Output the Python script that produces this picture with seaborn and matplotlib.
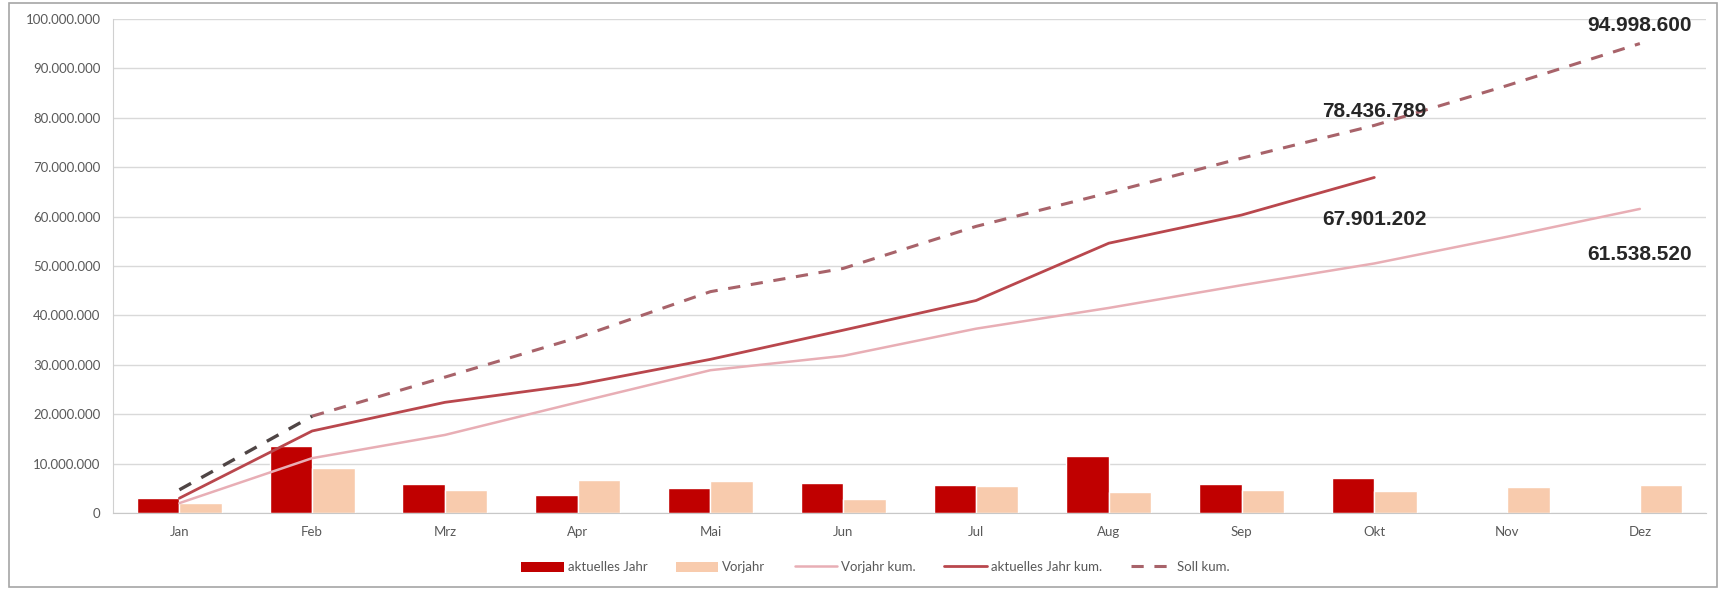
import numpy as np
import pandas as pd
import matplotlib
matplotlib.use('Agg')
import matplotlib.pyplot as plt
import matplotlib.ticker as mticker
from matplotlib.patches import Rectangle, Patch
from matplotlib.lines import Line2D
import seaborn as sns

# Monatswerte (gelesen aus der Vorlage)
monate = ['Jan', 'Feb', 'Mrz', 'Apr', 'Mai', 'Jun', 'Jul', 'Aug', 'Sep', 'Okt', 'Nov', 'Dez']
aktuell = [3.0e6, 13.6e6, 5.8e6, 3.6e6, 5.1e6, 6.0e6, 5.6e6, 11.6e6, 5.8e6, 7.1e6, np.nan, np.nan]
vorjahr = [2.0e6, 9.1e6, 4.7e6, 6.6e6, 6.5e6, 2.9e6, 5.5e6, 4.2e6, 4.6e6, 4.4e6, 5.3e6, 5.6e6]
aktuell_kum = [3.0e6, 16.6e6, 22.4e6, 26.0e6, 31.1e6, 37.0e6, 43.0e6, 54.6e6, 60.3e6, 67901202]
vorjahr_kum = [2.0e6, 11.1e6, 15.8e6, 22.4e6, 28.9e6, 31.8e6, 37.3e6, 41.5e6, 46.1e6, 50.5e6, 55.9e6, 61538520]
soll_kum = [4.7e6, 19.6e6, 27.5e6, 35.5e6, 44.8e6, 49.5e6, 58.0e6, 64.8e6, 71.8e6, 78436789, 86.5e6, 94998600]

c_akt = '#C00000'
c_vj = '#F8CBAD'
c_vj_kum = '#E8AEB5'
c_akt_kum = '#B9474D'
c_soll = '#A8636A'
c_soll_start = '#4F4545'

sns.set_style('white')
plt.rcParams['font.family'] = ['Lato', 'DejaVu Sans']

fig = plt.figure(figsize=(17.2, 5.89), dpi=100)
ax = fig.add_axes([0.0657, 0.129, 0.9263, 0.839])

# Balken
bars = pd.DataFrame({
    'Monat': monate * 2,
    'Wert': aktuell + vorjahr,
    'Serie': ['aktuelles Jahr'] * 12 + ['Vorjahr'] * 12,
})
sns.barplot(data=bars, x='Monat', y='Wert', hue='Serie', order=monate,
            palette={'aktuelles Jahr': c_akt, 'Vorjahr': c_vj},
            width=0.64, gap=0, errorbar=None, ax=ax, legend=False,
            saturation=1, zorder=2)

pos = np.arange(len(monate))
sns.lineplot(x=pos[:len(vorjahr_kum)], y=vorjahr_kum, color=c_vj_kum, lw=1.8, ax=ax, zorder=3)
sns.lineplot(x=pos[:len(aktuell_kum)], y=aktuell_kum, color=c_akt_kum, lw=2.0, ax=ax, zorder=4)
sns.lineplot(x=pos[1:], y=soll_kum[1:], color=c_soll, lw=2.2, ax=ax, zorder=5,
             linestyle=(0, (4, 3.5)))
sns.lineplot(x=pos[:2], y=soll_kum[:2], color=c_soll_start, lw=2.4, ax=ax, zorder=5,
             linestyle=(0, (4, 3.5)))

# Datenbeschriftungen
fmt = lambda v: f'{v:,.0f}'.replace(',', '.')
lab_kw = dict(textcoords='offset points', ha='center', va='center',
              fontsize=15, fontweight='bold', color='#262626',
              family=['Liberation Sans', 'DejaVu Sans'], zorder=6)
ax.annotate(fmt(soll_kum[-1]), xy=(pos[11], soll_kum[-1]), xytext=(0, 13), **lab_kw)
ax.annotate(fmt(soll_kum[9]), xy=(pos[9], soll_kum[9]), xytext=(0, 10), **lab_kw)
ax.annotate(fmt(aktuell_kum[-1]), xy=(pos[9], aktuell_kum[-1]), xytext=(0, -30), **lab_kw)
ax.annotate(fmt(vorjahr_kum[-1]), xy=(pos[11], vorjahr_kum[-1]), xytext=(0, -33), **lab_kw)

# Achsen
ax.set_xlim(-0.5, 11.5)
ax.set_ylim(0, 100e6)
ax.yaxis.set_major_locator(mticker.MultipleLocator(10e6))
ax.yaxis.set_major_formatter(mticker.FuncFormatter(lambda v, p: fmt(v)))
ax.grid(axis='y', color='#D9D9D9', lw=1.0, zorder=0)
ax.set_axisbelow(True)
ax.set_xlabel('')
ax.set_ylabel('')
for s in ['top', 'right']:
    ax.spines[s].set_visible(False)
ax.spines['left'].set_color('#D0D0D0')
ax.spines['bottom'].set_color('#C8C8C8')
ax.tick_params(axis='y', labelsize=9.5, labelcolor='#595959', length=5, color='#D0D0D0', pad=4)
ax.tick_params(axis='x', labelsize=9.5, labelcolor='#595959', length=0, pad=9)
ax.set_xticks(np.arange(-0.5, 12, 1), minor=True)
ax.tick_params(axis='x', which='minor', length=4, color='#D0D0D0')

# Legende
handles = [
    Patch(facecolor=c_akt, edgecolor='none'),
    Patch(facecolor=c_vj, edgecolor='none'),
    Line2D([], [], color=c_vj_kum, lw=1.8),
    Line2D([], [], color=c_akt_kum, lw=2.0),
    Line2D([], [], color=c_soll, lw=2.2, linestyle=(0, (4, 3.5))),
]
labels = ['aktuelles Jahr', 'Vorjahr', 'Vorjahr kum.', 'aktuelles Jahr kum.', 'Soll kum.']
fig.legend(handles, labels, loc='center', bbox_to_anchor=(0.509, 0.037), ncol=5,
           frameon=False, fontsize=9.5, labelcolor='#595959', handlelength=3.2,
           handleheight=0.8, handletextpad=0.3, columnspacing=2.2)

# Diagrammrahmen
fig.patches.append(Rectangle((0.005, 0.004), 0.993, 0.991, transform=fig.transFigure,
                             fill=False, edgecolor='#A6A6A6', lw=1.2))

fig.savefig('out.png', dpi=100)
